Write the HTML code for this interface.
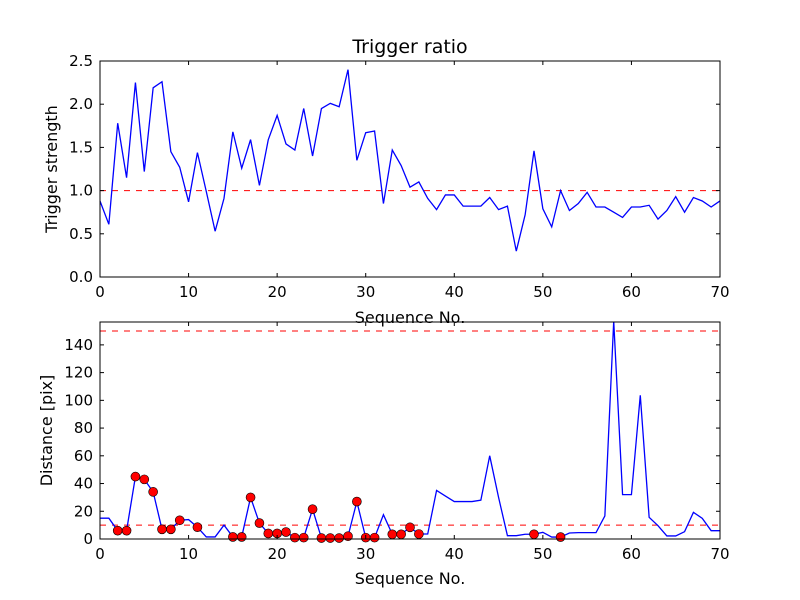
<!DOCTYPE html>
<html><head><meta charset="utf-8"><style>
body{margin:0;background:#fff;}
svg{display:block;font-family:"DejaVu Sans","Liberation Sans",sans-serif;}
</style></head><body>
<svg id="fig" width="800" height="600" xmlns="http://www.w3.org/2000/svg">
<rect width="800" height="600" fill="#fff"/>
</svg>
<script>
const ratio = [0.88,0.61,1.78,1.15,2.25,1.22,2.19,2.26,1.45,1.27,0.87,1.44,0.99,0.53,0.91,1.68,1.26,1.59,1.06,1.59,1.87,1.54,1.47,1.95,1.40,1.95,2.01,1.97,2.40,1.35,1.67,1.69,0.85,1.47,1.29,1.04,1.10,0.91,0.78,0.95,0.95,0.82,0.82,0.82,0.92,0.78,0.82,0.30,0.72,1.46,0.79,0.58,1.00,0.77,0.85,0.98,0.81,0.81,0.75,0.69,0.81,0.81,0.83,0.67,0.77,0.93,0.75,0.92,0.88,0.81,0.88];
const dist = [15,15,6,6,45,43,34,7,7,13.5,14,8.5,1.5,1.5,10,1.5,1.5,30,11.5,4,4,5,1,1,21.5,0.7,0.7,0.7,2,27,1,1,17.5,3.4,3.4,8.4,3.6,3.6,35,31,27,27,27,28,60,30,2.4,2.4,3.4,3.4,4.8,1.4,1.4,4.3,4.6,4.6,4.6,16.6,157,32,32,103.6,15.6,9.6,2.2,2.2,5.3,19.2,14.9,6,6];
const flagged = [2,3,4,5,6,7,8,9,11,15,16,17,18,19,20,21,22,23,24,25,26,27,28,29,30,31,33,34,35,36,49,52];
const xTicks = [0,10,20,30,40,50,60,70];
const yTicksTop = [0,0.5,1.0,1.5,2.0,2.5];
const yTicksBot = [0,20,40,60,80,100,120,140];
const ratioThreshold = [1.0];
const distThresholds = [10,150];

const NS="http://www.w3.org/2000/svg";
const svg=document.getElementById('fig');
function el(t,a,p){const e=document.createElementNS(NS,t);for(const k in a)e.setAttribute(k,a[k]);(p||svg).appendChild(e);return e;}
const L=100,R=720;
const sx=v=>L+(v-0)/(70-0)*(R-L);
function axes(top,bot,ymin,ymax,ticks,fmt,name,ylabel,xlabelY,yLabelX){
  const sy=v=>bot-(v-ymin)/(ymax-ymin)*(bot-top);
  const g=el('g',{});
  
  
  return {g,sy,top,bot,finish(){
    const f=el('rect',{x:L,y:top,width:R-L,height:bot-top,fill:'none',stroke:'#000','stroke-width':1},g);
    
    xTicks.forEach(v=>{const x=sx(v);
      el('line',{x1:x,y1:bot,x2:x,y2:bot-4,stroke:'#000'},g);el('line',{x1:x,y1:top,x2:x,y2:top+4,stroke:'#000'},g);
      const t=el('text',{x:x,y:bot+20,'font-size':15,'text-anchor':'middle'},g);t.textContent=v;
      });
    ticks.forEach(v=>{const y=sy(v);
      el('line',{x1:L,y1:y,x2:L+4,y2:y,stroke:'#000'},g);el('line',{x1:R,y1:y,x2:R-4,y2:y,stroke:'#000'},g);
      const t=el('text',{x:L-7,y:y+5,'font-size':15,'text-anchor':'end'},g);t.textContent=fmt(v);
      });
    const xl=el('text',{x:(L+R)/2,y:xlabelY,'font-size':16,'text-anchor':'middle'},g);xl.textContent='Sequence No.';
    
    const cy=(top+bot)/2;
    const yl=el('text',{x:yLabelX,y:cy,'font-size':16,'text-anchor':'middle',transform:`rotate(-90 ${yLabelX} ${cy})`},g);yl.textContent=ylabel;
    
  }};
}
// top
const A=axes(61,277,0,2.5,yTicksTop,v=>v.toFixed(1),'ratio-axes','Trigger strength',323,57);
ratioThreshold.forEach(v=>{const l=el('line',{x1:L,x2:R,y1:A.sy(v),y2:A.sy(v),stroke:'#f00','stroke-dasharray':'6,6','stroke-width':1},A.g);
  });
const p1=el('polyline',{points:ratio.map((v,i)=>sx(i)+','+A.sy(v)).join(' '),fill:'none',stroke:'#00f','stroke-width':1.3},A.g);

A.finish();
const tt=el('text',{x:410,y:53,'font-size':19,'text-anchor':'middle'});tt.textContent='Trigger ratio';

// bottom
const B=axes(322,539,0,156.5,yTicksBot,v=>v,'distance-axes','Distance [pix]',584,52);
const clip=el('clipPath',{id:'cb'});el('rect',{x:L,y:322,width:R-L,height:217},clip);
distThresholds.forEach(v=>{const l=el('line',{x1:L,x2:R,y1:B.sy(v),y2:B.sy(v),stroke:'#f00','stroke-dasharray':'6,6','stroke-width':1},B.g);
  });
const p2=el('polyline',{points:dist.map((v,i)=>sx(i)+','+B.sy(v)).join(' '),fill:'none',stroke:'#00f','stroke-width':1.3,'clip-path':'url(#cb)'},B.g);

flagged.forEach(i=>{const c=el('circle',{cx:sx(i),cy:B.sy(dist[i]),r:4.5,fill:'#f00',stroke:'#000','stroke-width':0.6},B.g);
  });
B.finish();
</script>
</body></html>
